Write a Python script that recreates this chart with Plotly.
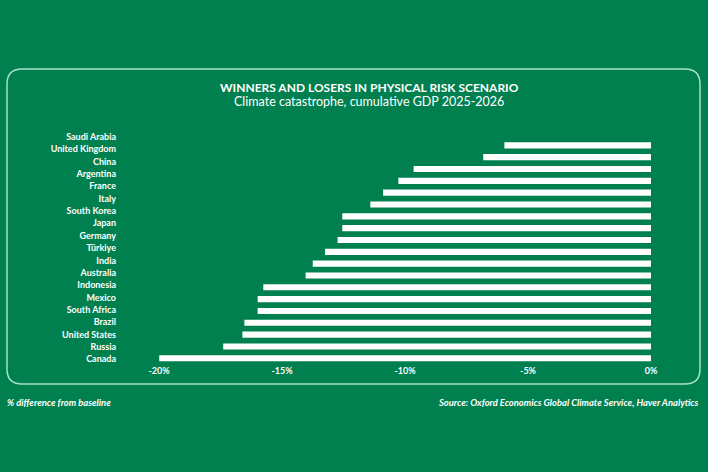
import plotly.graph_objects as go

W, H = 708, 472

countries = ["Saudi Arabia", "United Kingdom", "China", "Argentina", "France", "Italy",
             "South Korea", "Japan", "Germany", "Türkiye", "India", "Australia",
             "Indonesia", "Mexico", "South Africa", "Brazil", "United States", "Russia", "Canada"]
values = [-5.96, -6.82, -9.65, -10.27, -10.89, -11.41, -12.55, -12.55, -12.74, -13.25,
          -13.75, -14.04, -15.76, -15.99, -15.99, -16.53, -16.61, -17.39, -19.99]
tick_vals = [-20, -15, -10, -5, 0]
tick_text = ["-20%", "-15%", "-10%", "-5%", "0%"]

BG = "#00804e"
FONT = "Lato"


def px(x):
    return x / W


def py(y):
    return 1 - y / H


fig = go.Figure()

# invisible trace carrying the country labels on a slightly taller axis
fig.add_trace(go.Scatter(
    x=[0] * len(countries), y=countries, mode="markers",
    marker=dict(opacity=0), hoverinfo="skip", xaxis="x2", yaxis="y2",
    showlegend=False,
))
fig.add_trace(go.Bar(
    x=values, y=countries, orientation="h",
    marker=dict(color="white", line=dict(width=0)),
    width=0.52, hoverinfo="x+y", xaxis="x", yaxis="y",
))

# rounded box
x0, x1, y0, y1, r = 7, 700, 69, 384, 15
path = (f"M {px(x0 + r)} {py(y0)} L {px(x1 - r)} {py(y0)} "
        f"Q {px(x1)} {py(y0)} {px(x1)} {py(y0 + r)} "
        f"L {px(x1)} {py(y1 - r)} Q {px(x1)} {py(y1)} {px(x1 - r)} {py(y1)} "
        f"L {px(x0 + r)} {py(y1)} Q {px(x0)} {py(y1)} {px(x0)} {py(y1 - r)} "
        f"L {px(x0)} {py(y0 + r)} Q {px(x0)} {py(y0)} {px(x0 + r)} {py(y0)} Z")

fig.update_layout(
    width=W, height=H,
    margin=dict(l=0, r=0, t=0, b=0),
    paper_bgcolor=BG, plot_bgcolor="rgba(0,0,0,0)",
    showlegend=False,
    font=dict(family=FONT, color="white"),
    xaxis=dict(domain=[px(159), px(651)], range=[-20, 0], tickvals=tick_vals,
               ticktext=tick_text, showgrid=False, zeroline=False, showline=False,
               ticks="", tickfont=dict(family=FONT, size=9, color="white", weight="bold"),
               anchor="y", fixedrange=True, automargin=False),
    yaxis=dict(domain=[py(364.2), py(139.4)], type="category", categoryorder="array",
               categoryarray=countries, range=[len(countries) - 0.5, -0.5],
               showticklabels=False, showgrid=False, zeroline=False, showline=False,
               ticks="", anchor="x", automargin=False),
    xaxis2=dict(domain=[px(117), px(651)], range=[-20, 0], visible=False, anchor="y2"),
    yaxis2=dict(domain=[py(365.5), py(130.5)], type="category", categoryorder="array",
                categoryarray=countries, range=[len(countries) - 0.5, -0.5],
                showgrid=False, zeroline=False, showline=False, ticks="",
                tickfont=dict(family=FONT, size=9, color="white", weight="bold"),
                anchor="x2", automargin=False),
    shapes=[dict(type="path", xref="paper", yref="paper", path=path,
                 line=dict(color="#a6e0c8", width=1.5), fillcolor="rgba(0,0,0,0)", layer="below")],
    annotations=[
        dict(text="WINNERS AND LOSERS IN PHYSICAL RISK SCENARIO", x=px(369), y=py(87),
             xref="paper", yref="paper", showarrow=False, xanchor="center", yanchor="middle",
             font=dict(family=FONT, size=12, color="white", weight="bold")),
        dict(text="Climate catastrophe, cumulative GDP 2025-2026", x=px(369), y=py(102),
             xref="paper", yref="paper", showarrow=False, xanchor="center", yanchor="middle",
             font=dict(family=FONT, size=12.5, color="white")),
        dict(text="% difference from baseline", x=px(5), y=py(402),
             xref="paper", yref="paper", showarrow=False, xanchor="left", yanchor="middle",
             font=dict(family=FONT, size=9.4, color="white", style="italic", weight="bold")),
        dict(text="Source: Oxford Economics Global Climate Service, Haver Analytics", x=px(701), y=py(402),
             xref="paper", yref="paper", showarrow=False, xanchor="right", yanchor="middle",
             font=dict(family=FONT, size=9.4, color="white", style="italic", weight="bold")),
    ],
)

fig.write_html("out.html", config={"displayModeBar": False},
               post_script="document.body.style.margin='0';document.body.style.background='%s';" % BG)
